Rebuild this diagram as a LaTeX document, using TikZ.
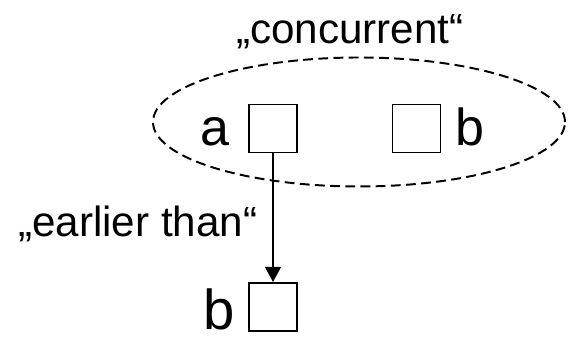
\documentclass[tikz,border=0pt]{standalone}
\usepackage{fontspec}
\setmainfont{Liberation Sans}
\usetikzlibrary{arrows.meta,positioning}

\tikzset{
  event/.style={draw, line width=1.4pt, minimum size=1.2cm, inner sep=0pt},
  relation/.style={inner sep=0pt, font=\fontsize{30}{36}\selectfont},
  evlabel/.style={inner sep=0pt, font=\fontsize{37}{44}\selectfont},
}

\begin{document}
\begin{tikzpicture}
\useasboundingbox (0,0) rectangle (14.275,8.5);

% the three events
\node[event] (ea) at (6.825,5.2875) {};
\node[event] (eb) at (10.4125,5.2875) {};
\node[event] (lb) at (6.825,0.825) {};

\node[evlabel, anchor=base east] (la) at (5.74,4.8625) {a};
\node[evlabel, anchor=base west] (lbb) at (11.37,4.8625) {b};
\node[evlabel, anchor=base east, font=\fontsize{40}{48}\selectfont] (llb) at (5.87,0.2625) {b};

% concurrent events inside the dashed ellipse
\draw[line width=1.4pt, dash pattern=on 7pt off 3.8pt] (8.975,5.45) ellipse (5.15 and 1.6125);
\node[relation, anchor=base] (conc) at (8.75,7.4125) {„concurrent“};

\node[relation, anchor=base east] (earl) at (6.44,2.5875) {„earlier than“};
\draw[line width=1.4pt, -{Triangle[width=0.4cm,length=0.38cm]}] (ea) -- (lb);
\end{tikzpicture}
\end{document}
